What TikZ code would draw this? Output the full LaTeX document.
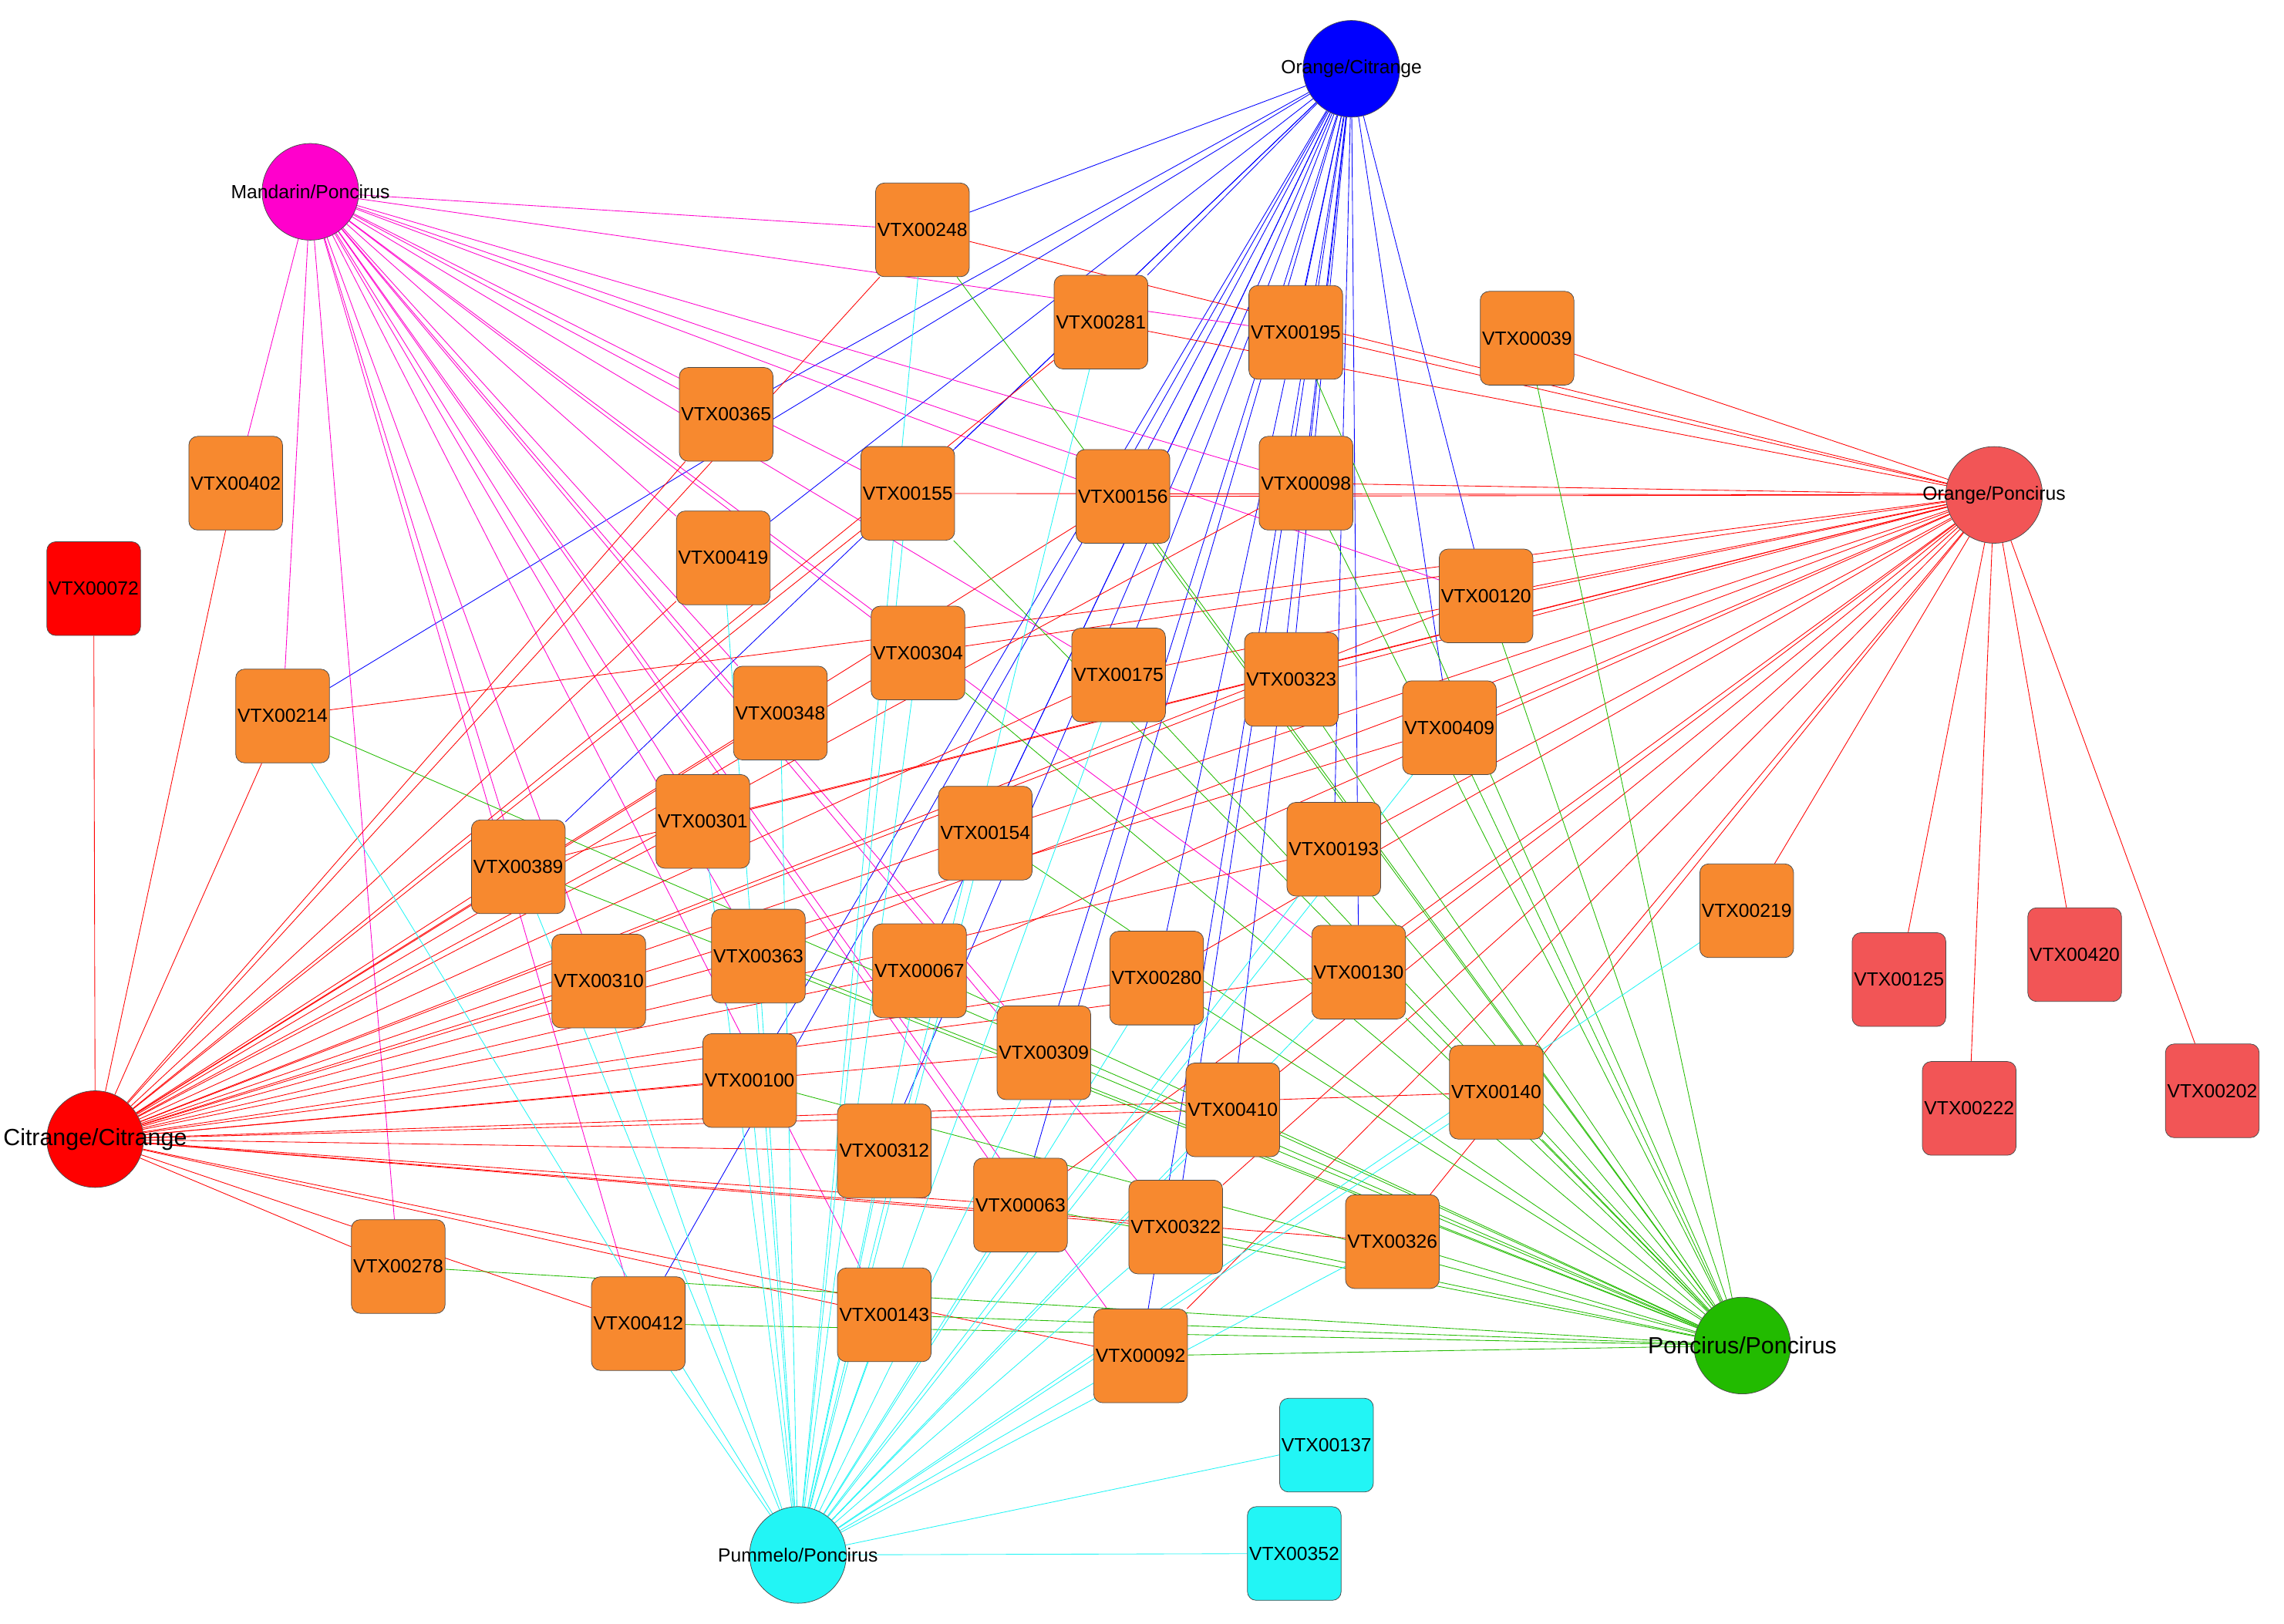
\documentclass[tikz,border=0pt]{standalone}
\usepackage{fontspec}
\setmainfont{Liberation Sans}
\usetikzlibrary{backgrounds}
\definecolor{org}{HTML}{F7892F}
\definecolor{lred}{HTML}{F25556}
\definecolor{cy}{HTML}{22F5F5}
\definecolor{gr}{HTML}{22BB00}
\definecolor{mg}{HTML}{FF00CC}
\begin{document}
\begin{tikzpicture}[x=1pt,y=-1pt,
 sq/.style={draw=black!70,rounded corners=6,minimum size=64,inner sep=0,fill=org,font=\fontsize{13}{13}\selectfont},
 hub/.style={draw=black!70,circle,minimum size=66,inner sep=0},
 hl/.style={inner sep=0,font=\fontsize{13}{13}\selectfont},
 ed/.style={line width=0.45pt}]
\useasboundingbox (0,0) rectangle (1560,1109);
\node[hub,fill=blue] (OC) at (923,47) {};
\node[hub,fill=mg] (MP) at (212,131) {};
\node[hub,fill=lred] (OP) at (1362,338) {};
\node[hub,fill=red] (CC) at (65,778) {};
\node[hub,fill=gr] (PP) at (1190,919) {};
\node[hub,fill=cy] (PuP) at (545,1062) {};
\foreach \n/\x/\y in {248/630/157,281/752/220,195/885/227,039/1043/231,365/496/283,402/161/330,155/620/337,156/767/339,098/892/330,419/494/381,120/1015/407,304/627/446,175/764/461,323/882/464,214/193/489,348/533/487,409/990/497,301/480/561,154/673/569,193/911/580,389/354/592,219/1193/622,310/409/670,363/518/653,067/628/663,280/790/668,130/928/664,309/713/719,100/512/738,410/842/758,140/1022/746,312/604/786,063/697/823,322/803/838,326/951/848,278/272/865,412/436/904,143/604/898,092/779/926}
  \node[sq] (V\n) at (\x,\y) {VTX00\n};
\node[sq,fill=red] (V072) at (64,402) {VTX00072};
\foreach \n/\x/\y in {125/1297/669,420/1417/652,222/1345/757,202/1511/745}
  \node[sq,fill=lred] (V\n) at (\x,\y) {VTX00\n};
\node[sq,fill=cy] (V137) at (906,987) {VTX00137};
\node[sq,fill=cy] (V352) at (884,1061) {VTX00352};
\node[hl] (tOC) at (OC) {Orange/Citrange};
\node[hl] (tMP) at (MP) {Mandarin/Poncirus};
\node[hl] (tOP) at (OP) {Orange/Poncirus};
\node[hl,font=\fontsize{16}{16}\selectfont] (tCC) at (CC) {Citrange/Citrange};
\node[hl,font=\fontsize{16}{16}\selectfont] (tPP) at (PP) {Poncirus/Poncirus};
\node[hl] (tPuP) at (PuP) {Pummelo/Poncirus};
\begin{pgfonlayer}{background}
\foreach \t in {248,365,214,389,419,100,412,155,156,098,195,281,120,175,323,409,193,154,130,410,280,312,092,322,063,309,067}
  \draw[ed,blue] (OC) -- (V\t);
\foreach \t in {248,402,214,278,412,389,301,365,155,156,098,120,304,348,363,310,143,063,309,130,322,092,195,419,175}
  \draw[ed,mg] (MP) -- (V\t);
\foreach \t in {039,248,195,281,098,156,155,120,323,409,193,175,304,214,301,154,280,130,140,219,125,420,222,202,410,092,322,326,063,067,363,389}
  \draw[ed,red] (OP) -- (V\t);
\foreach \t in {072,402,214,278,412,143,092,312,063,100,310,363,389,301,348,419,365,304,154,155,156,175,098,323,120,409,193,130,280,067,309,410,322,326,140,281,248}
  \draw[ed,red] (CC) -- (V\t);
\foreach \t in {039,248,195,155,156,098,120,323,175,409,193,304,214,389,154,363,067,280,130,140,326,410,322,092,143,278,412,100,063,309}
  \draw[ed,gr] (PP) -- (V\t);
\foreach \t in {137,352,219,412,143,092,312,063,322,326,410,100,309,067,363,310,301,348,419,155,304,175,281,248,154,280,130,140,193,214,409,389}
  \draw[ed,cy] (PuP) -- (V\t);
\end{pgfonlayer}
\end{tikzpicture}
\end{document}
